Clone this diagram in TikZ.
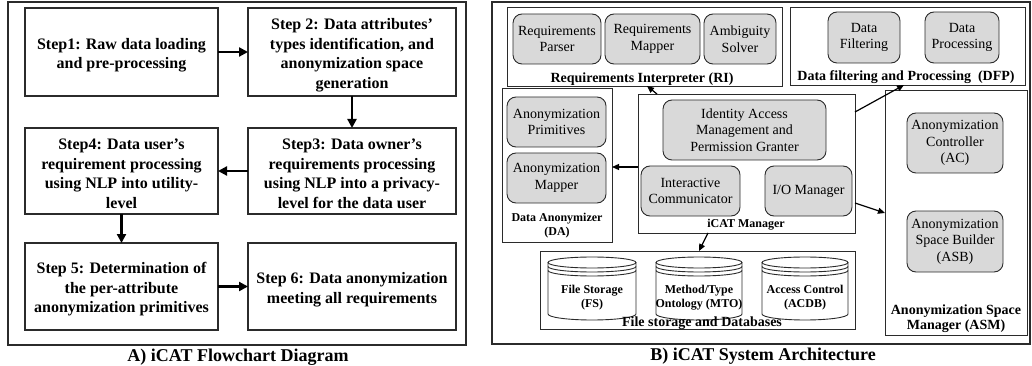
\documentclass[tikz,border=0pt]{standalone}
\usepackage{fontspec}
\setmainfont{Liberation Serif}
\usetikzlibrary{arrows.meta,calc}
\definecolor{boxgray}{HTML}{D9D9D9}
\definecolor{edgec}{HTML}{2B2B2B}
\newcommand\cylshape[4]{%
  \pgfmathsetmacro\cylcx{(#1+#2)/2}%
  \pgfmathsetmacro\cylrx{(#2-#1)/2}%
  \draw[cylline] (\cylcx,#3+5.5) ellipse [x radius=\cylrx, y radius=5.5];
  \draw[cylline] (#1,#3+9.5) arc [start angle=180, end angle=0, x radius=\cylrx, y radius=5.5];
  \draw[cylline] (#1,#3+13.5) arc [start angle=180, end angle=0, x radius=\cylrx, y radius=5.5];
  \draw[cylline] (#1,#3+5.5) -- (#1,#4-6) arc [start angle=180, end angle=0, x radius=\cylrx, y radius=6] -- (#2,#3+5.5);
}
% box by corners: {style}{name}{x1}{y1}{x2}{y2}{text}
\newcommand\bx[7]{%
  \pgfmathsetmacro\bxw{#5-#3}%
  \pgfmathsetmacro\bxh{#6-#4}%
  \pgfmathsetmacro\bxx{(#3+#5)/2}%
  \pgfmathsetmacro\bxy{(#4+#6)/2}%
  \node[#1, minimum width=\bxw pt, minimum height=\bxh pt] (#2) at (\bxx,\bxy) {#7};%
}
% step box: {name}{x1}{y1}{x2}{y2}{text}
\newcommand\stepbx[6]{%
  \pgfmathsetmacro\bxw{#4-#2}%
  \pgfmathsetmacro\bxh{#5-#3}%
  \pgfmathsetmacro\bxx{(#2+#4)/2}%
  \pgfmathsetmacro\bxy{(#3+#5)/2+3}%
  \node[stepbox, minimum width=\bxw pt, minimum height=\bxh pt] (#1) at (\bxx,\bxy-3) {};%
  \node[steptext] (#1t) at (\bxx,\bxy) {#6};%
}
\begin{document}
\begin{tikzpicture}[x=1pt,y=-1pt,
  every node/.style={inner sep=0pt, outer sep=0pt},
  stepbox/.style={draw=edgec, line width=1.1pt},
  steptext/.style={align=center, font=\bfseries\fontsize{16}{19.5}\selectfont},
  panel/.style={draw=edgec, line width=1.4pt},
  grp/.style={draw=edgec, line width=0.9pt},
  gbox/.style={draw=edgec, line width=0.9pt, fill=boxgray, rounded corners=9pt, align=center, font=\fontsize{14}{16.5}\selectfont},
  lbl/.style={align=center, font=\bfseries\fontsize{14}{15}\selectfont},
  slbl/.style={align=center, font=\bfseries\fontsize{12}{14}\selectfont},
  ttl/.style={font=\bfseries\fontsize{18}{20}\selectfont},
  bigarrow/.style={line width=2.2pt, -{Triangle[length=9pt,width=9pt]}},
  arr/.style={line width=1.2pt, -{Triangle[length=7pt,width=6pt]}},
  cylline/.style={draw=edgec, line width=0.9pt},
]
\useasboundingbox (0,0) rectangle (1032,366);

% ---------------- Left panel ----------------
\draw[panel] (8,2) rectangle (466,345);
\stepbx{s1}{25}{8}{218}{96}{Step1: Raw data loading\\and pre-processing}
\stepbx{s2}{248}{8}{456}{96}{Step 2: Data attributes’\\types identification, and\\anonymization space\\generation}
\stepbx{s3}{248}{128}{456}{214}{Step3: Data owner’s\\requirements processing\\using NLP into a privacy-\\level for the data user}
\stepbx{s4}{25}{128}{218}{214}{Step4: Data user’s\\requirement processing\\using NLP into utility-\\level}
\stepbx{s5}{25}{243}{218}{330}{Step 5: Determination of\\the per-attribute\\anonymization primitives}
\stepbx{s6}{248}{243}{456}{330}{Step 6: Data anonymization\\meeting all requirements}
\draw[bigarrow] (s1) -- (s2);
\draw[bigarrow] (s2) -- (s3);
\draw[bigarrow] (s3) -- (s4);
\draw[bigarrow] (s4) -- (s5);
\draw[bigarrow] (s5) -- (s6);
\node[ttl] (ta) at (238,357) {A) iCAT Flowchart Diagram};

% ---------------- Right panel ----------------
\draw[panel] (492,2) rectangle (1030,344);

% Requirements Interpreter
\bx{grp}{ri}{507}{7}{782}{86}{}
\bx{gbox}{rp}{513}{14}{601}{64}{Requirements\\Parser}
\bx{gbox}{rm}{605}{14}{700}{64}{Requirements\\Mapper}
\bx{gbox}{as}{704}{14}{776}{64}{Ambiguity\\Solver}
\node[lbl] (rilbl) at (642,79) {Requirements Interpreter (RI)};

% Data filtering and processing
\bx{grp}{dfp}{790}{7}{1025}{85}{}
\bx{gbox}{df}{828}{12}{900}{63}{Data\\Filtering}
\bx{gbox}{dp}{925}{12}{999}{63}{Data\\Processing}
\node[lbl] (dfplbl) at (906,77) {Data filtering and Processing\ \ (DFP)};

% Data Anonymizer
\bx{grp}{da}{502}{88}{612}{242}{}
\bx{gbox}{ap}{507}{97}{606}{147}{Anonymization\\Primitives}
\bx{gbox}{am}{507}{153}{606}{203}{Anonymization\\Mapper}
\node[slbl] (dalbl) at (557,226) {Data Anonymizer\\(DA)};

% iCAT Manager
\bx{grp}{icat}{638}{94}{855}{233}{}
\bx{gbox}{iam}{663}{100}{826}{160}{Identity Access\\Management and\\Permission Granter}
\bx{gbox}{ic}{641}{166}{740}{216}{Interactive\\Communicator}
\bx{gbox}{io}{765}{166}{852}{216}{I/O Manager}
\node[slbl] (icatlbl) at (746,225) {iCAT Manager};

% Anonymization Space Manager
\bx{grp}{asm}{885}{90}{1027}{335}{}
\bx{gbox}{ac}{907}{113}{1003}{173}{Anonymization\\Controller\\(AC)}
\bx{gbox}{asb}{907}{211}{1003}{272}{Anonymization\\Space Builder\\(ASB)}
\node[lbl] (asmlbl) at (956,319) {Anonymization Space\\Manager (ASM)};

% File storage and databases
\bx{grp}{fsd}{540}{251}{855}{329}{}
\bx{}{fs}{548}{257}{636}{320}{}
\bx{}{mto}{656}{257}{742}{320}{}
\bx{}{acdb}{762}{257}{848}{320}{}
\cylshape{548}{636}{257}{320}
\cylshape{656}{742}{257}{320}
\cylshape{762}{848}{257}{320}
\node[slbl] (fslbl) at (592,298) {File Storage\\(FS)};
\node[slbl] (mtolbl) at (699,298) {Method/Type\\Ontology (MTO)};
\node[slbl] (acdblbl) at (805,298) {Access Control\\(ACDB)};
\node[lbl] (fsdlbl) at (702,323) {File storage and Databases};

% connectors
\draw[arr] ([xshift=19pt]icat.north west) -- ([xshift=140pt]ri.south west);
\draw[arr] (icat.west |- 0,167) -- (da.east |- 0,167);
\draw[arr] (icat.east |- 0,112) -- (dfp.south -| 904,0);
\draw[arr] (icat.east |- 0,203) -- (asm.west |- 0,213);
\draw[arr] ([xshift=70pt]icat.south west) -- ([xshift=159pt]fsd.north west);

\node[ttl] (tb) at (763,356) {B) iCAT System Architecture};
\end{tikzpicture}
\end{document}
